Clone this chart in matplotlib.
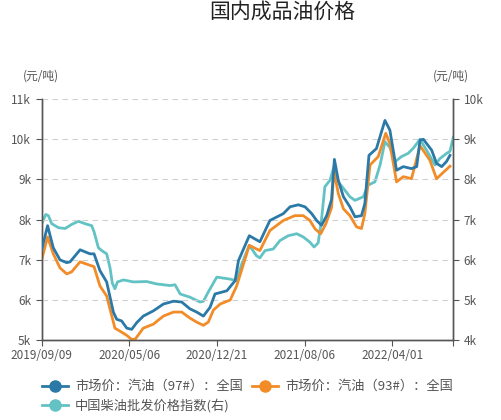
import matplotlib.pyplot as plt
from matplotlib.lines import Line2D

plt.rcParams['font.family'] = ['Noto Sans CJK SC', 'DejaVu Sans']

# x positions are week indices (34 weeks between labelled ticks)
tick_pos = [0, 34, 68, 102, 136]
tick_labels = ['2019/09/09', '2020/05/06', '2020/12/21', '2021/08/06', '2022/04/01']
x_end = 159.6

# 汽油 97#
x97 = [0, 2.3, 4.5, 7.1, 9.7, 11.0, 14.9, 18.7, 20.3, 22.6, 25.2, 27.8, 29.1, 31.0,
       33.0, 34.9, 36.9, 39.4, 43.3, 47.2, 51.1, 54.3, 57.5, 60.1, 62.7, 65.3, 67.2,
       71.8, 75.0, 76.3, 80.5, 84.6, 88.5, 93.7, 96.3, 99.5, 102.1, 104.7, 106.6,
       108.5, 110.5, 112.4, 113.5, 115.0, 117.0, 119.5, 121.5, 124.0, 125.3, 126.9,
       129.8, 133.1, 135.0, 137.6, 140.2, 143.4, 145.4, 146.7, 148.0, 151.2, 153.1,
       155.1, 157.0, 158.3]
y97 = [7250, 7850, 7300, 7000, 6930, 6950, 7250, 7150, 7150, 6730, 6450, 5700, 5520,
       5480, 5300, 5270, 5440, 5600, 5730, 5900, 5970, 5950, 5780, 5700, 5600, 5820,
       6150, 6230, 6480, 6980, 7600, 7450, 7980, 8150, 8320, 8370, 8320, 8150, 7980,
       7860, 8100, 8500, 9500, 8980, 8570, 8320, 8070, 8100, 8400, 9600, 9770, 10470,
       10230, 9230, 9320, 9270, 9320, 9980, 10000, 9730, 9400, 9320, 9450, 9600]

# 汽油 93#
x93 = [0, 2.3, 4.5, 7.1, 9.7, 11.6, 14.9, 19.4, 20.3, 22.6, 25.2, 27.2, 28.4, 31.0,
       33.0, 34.9, 36.2, 39.4, 43.3, 47.2, 51.1, 54.3, 57.5, 60.1, 62.7, 64.6, 66.6,
       69.2, 73.1, 75.6, 80.5, 84.6, 88.5, 93.7, 98.2, 101.4, 104.0, 106.0, 108.2,
       110.2, 112.4, 113.3, 115.0, 117.0, 119.5, 122.1, 124.0, 125.3, 127.3, 130.5,
       133.4, 135.0, 137.6, 140.2, 143.4, 146.7, 150.5, 153.1, 158.3]
y93 = [7000, 7570, 7150, 6800, 6650, 6700, 6950, 6850, 6830, 6350, 6100, 5600, 5300,
       5200, 5120, 5020, 5020, 5300, 5400, 5600, 5700, 5700, 5550, 5450, 5370, 5450,
       5750, 5900, 6000, 6350, 7360, 7230, 7730, 7980, 8100, 8100, 7980, 7770, 7650,
       7900, 8300, 9230, 8650, 8270, 8100, 7820, 7780, 8150, 9360, 9570, 10150, 9900,
       8940, 9070, 9020, 9840, 9480, 9020, 9330]

# 中国柴油批发价格指数 (right axis)
xdz = [0, 1.6, 2.6, 3.9, 6.5, 9.1, 11.6, 14.2, 16.8, 19.4, 20.3, 22.0, 23.3, 25.2,
       26.5, 27.4, 28.4, 29.4, 31.7, 35.6, 40.7, 44.6, 49.8, 51.7, 53.7, 57.5, 61.4,
       62.7, 64.6, 67.9, 73.1, 75.6, 77.6, 80.5, 83.3, 84.6, 86.6, 89.8, 92.4, 95.6,
       98.9, 101.4, 104.0, 105.6, 107.2, 108.5, 109.8, 111.8, 113.3, 115.0, 117.0,
       119.5, 121.5, 124.7, 126.6, 129.2, 131.2, 133.1, 135.0, 137.0, 139.5, 142.1,
       144.1, 146.7, 149.2, 152.5, 154.4, 157.0, 158.3, 159.6]
ydz = [6900, 7130, 7100, 6900, 6800, 6780, 6880, 6960, 6900, 6850, 6700, 6300, 6230,
       6150, 5800, 5420, 5280, 5450, 5500, 5450, 5460, 5400, 5360, 5380, 5150, 5070,
       4950, 4970, 5200, 5570, 5520, 5480, 5900, 6360, 6100, 6050, 6230, 6270, 6480,
       6600, 6650, 6570, 6440, 6320, 6420, 7000, 7820, 7980, 8320, 7940, 7780, 7570,
       7480, 7570, 7860, 7940, 8360, 8940, 8800, 8440, 8570, 8650, 8780, 9000, 8730,
       8360, 8520, 8650, 8700, 9050]

c97 = '#2b79a6'
c93 = '#f28c28'
cdz = '#62c2c4'
tc = '#555555'

fig = plt.figure(figsize=(5.02, 4.2), dpi=100)
ax = fig.add_axes([0.083, 0.19, 0.82, 0.574])
ax2 = ax.twinx()

ax.plot(x97, y97, color=c97, lw=2, zorder=3)
ax.plot(x93, y93, color=c93, lw=2, zorder=2)
ax2.plot(xdz, ydz, color=cdz, lw=2)
ax.set_zorder(ax2.get_zorder() + 1)
ax.patch.set_visible(False)

ax.set_xlim(0, x_end)
ax.set_ylim(5000, 11000)
ax2.set_ylim(4000, 10000)
ax.set_xticks(tick_pos + [x_end])
ax.set_xticklabels(tick_labels + [''])
ax.set_yticks(range(5000, 11001, 1000))
ax.set_yticklabels([f'{v // 1000}k' for v in range(5000, 11001, 1000)])
ax2.set_yticks(range(4000, 10001, 1000))
ax2.set_yticklabels([f'{v // 1000}k' for v in range(4000, 10001, 1000)])

ax.grid(axis='y', color='#d0d0d0', ls=(0, (5, 4)), lw=0.8)
for a in (ax, ax2):
    a.spines['top'].set_visible(False)
    for s in ('left', 'right', 'bottom'):
        a.spines[s].set_color('#555555')
        a.spines[s].set_linewidth(1)
    a.tick_params(colors='#555555', labelcolor=tc, labelsize=8.5, length=4)
ax.tick_params(axis='x', pad=2)

fig.text(0.562, 0.973, '国内成品油价格', ha='center', va='center', fontsize=15, color='#222222')
fig.text(0.045, 0.82, '(元/吨)', ha='left', va='center', fontsize=8.5, color=tc)
fig.text(0.862, 0.82, '(元/吨)', ha='left', va='center', fontsize=8.5, color=tc)

# order so that the two gasoline series share the first row
handles = [Line2D([], [], color=c97, lw=2, marker='o', ms=8),
           Line2D([], [], color=cdz, lw=2, marker='o', ms=8),
           Line2D([], [], color=c93, lw=2, marker='o', ms=8)]
labels = ['市场价：汽油（97#）：全国', '中国柴油批发价格指数(右)', '市场价：汽油（93#）：全国']
fig.legend(handles, labels, loc='lower left', bbox_to_anchor=(0.06, -0.01), ncol=2,
           frameon=False, fontsize=9.5, handlelength=2.0, columnspacing=0.7,
           labelcolor=tc, handletextpad=0.5, labelspacing=0.4)

fig.savefig('out.png', dpi=100)
